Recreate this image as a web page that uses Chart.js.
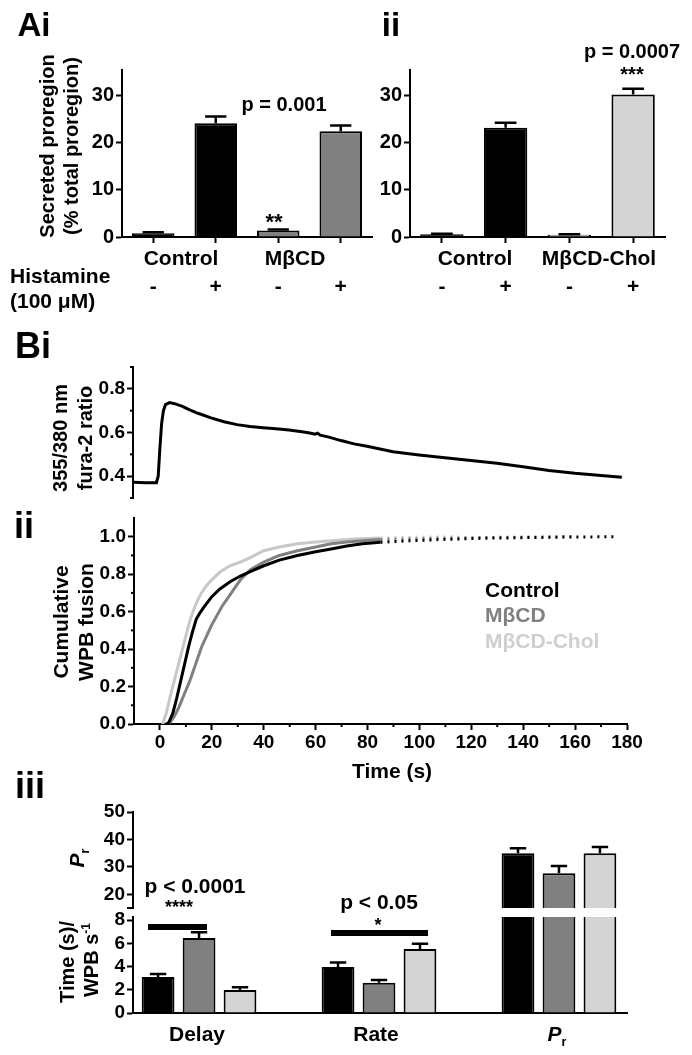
<!DOCTYPE html>
<html>
<head>
<meta charset="utf-8">
<script src="https://cdn.jsdelivr.net/npm/chart.js@4.4.0/dist/chart.umd.min.js"></script>
<style>
  body { margin: 0; background: #fff; }
  #page { position: relative; width: 692px; height: 1055px; overflow: hidden;
          font-family: "Liberation Sans", Arial, Helvetica, sans-serif; font-weight: bold; }
  canvas { position: absolute; left: 0; top: 0; }
  .t { position: absolute; white-space: nowrap; line-height: 1; color: #000; }
  .bar { position: absolute; background: #000; }
  sub, sup { font-size: 0.6em; line-height: 0; }
</style>
</head>
<body>
<div id="page">
  <canvas id="cAi" width="692" height="1055"></canvas>
  <canvas id="cAii" width="692" height="1055"></canvas>
  <canvas id="cBi" width="692" height="1055"></canvas>
  <canvas id="cBii" width="692" height="1055"></canvas>
  <canvas id="cPr" width="692" height="1055"></canvas>
  <canvas id="cKin" width="692" height="1055"></canvas>
</div>
<script>
const W = 692, H = 1055;

// A: secreted proregion (% total proregion), histamine - / +
const aSigns = ["-", "+", "-", "+"];
const aiValues = [0.8, 24.2, 1.4, 22.5];
const aiErrors = [0.2, 1.4, 0.2, 1.2];
const aiiValues = [0.6, 23.2, 0.5, 30.3];
const aiiErrors = [0.1, 1.1, 0.1, 1.2];
const aTicks = [0, 10, 20, 30];

// Bi: fura-2 ratio trace
const fTime = [-10, -5, -1, -0.3, 0.3, 1, 1.7, 2.5, 4, 6, 9, 12, 15, 20, 25, 30, 35, 40, 45, 50,
  55, 58, 60, 61, 62, 65, 70, 75, 80, 90, 100, 110, 120, 130, 140, 150, 160, 170, 178];
const fRatio = [0.372, 0.37, 0.37, 0.40, 0.52, 0.64, 0.70, 0.728, 0.737, 0.732, 0.72, 0.703, 0.688, 0.667, 0.649, 0.636, 0.628, 0.622, 0.617, 0.611,
  0.603, 0.598, 0.592, 0.597, 0.588, 0.58, 0.563, 0.548, 0.537, 0.512, 0.497, 0.484, 0.472, 0.459, 0.443, 0.426, 0.413, 0.403, 0.395];
const fTicks = [0.4, 0.6, 0.8];
const fMinor = [0.3, 0.5, 0.7, 0.9];

// Bii: cumulative WPB fusion
const ctrlTime = [2.5, 3.5, 5, 6.5, 8, 9.5, 11, 12.5, 14, 15.5, 17, 20, 23, 27, 31, 35, 40, 46, 53, 60,
  66, 72, 78, 85, 95, 110, 125, 140, 155, 176];
const ctrlFrac = [0, 0.01, 0.06, 0.14, 0.23, 0.32, 0.41, 0.49, 0.56, 0.595, 0.625, 0.68, 0.72, 0.76, 0.79, 0.815, 0.845, 0.875, 0.9, 0.92,
  0.935, 0.95, 0.962, 0.97, 0.978, 0.986, 0.992, 0.995, 0.998, 1.0];
const mbcdTime = [2.5, 4, 5.5, 7, 8.5, 10, 11.5, 13, 14.5, 16, 18, 20, 22, 24, 26, 28, 31, 35, 40, 46,
  53, 60, 66, 72, 78, 85, 100, 120, 140, 160];
const mbcdFrac = [0, 0.01, 0.04, 0.08, 0.13, 0.18, 0.23, 0.29, 0.35, 0.41, 0.47, 0.53, 0.58, 0.63, 0.67, 0.71, 0.77, 0.825, 0.865, 0.9,
  0.925, 0.945, 0.962, 0.972, 0.978, 0.985, 0.99, 0.995, 0.998, 1.0];
const cholTime = [1, 2.5, 4, 5.5, 7, 8.5, 10, 11.5, 13, 14.5, 16, 18, 20, 23, 27, 31, 35, 40, 46, 53,
  60, 66, 75, 85, 100, 115];
const cholFrac = [0, 0.06, 0.15, 0.23, 0.31, 0.39, 0.47, 0.55, 0.61, 0.66, 0.7, 0.74, 0.77, 0.81, 0.845, 0.865, 0.89, 0.925, 0.945, 0.962,
  0.972, 0.978, 0.988, 0.993, 0.997, 1.0];
const cumXTicks = [0, 20, 40, 60, 80, 100, 120, 140, 160, 180];
const cumXMinor = [10, 30, 50, 70, 90, 110, 130, 150, 170];
const cumYTicks = [0, 0.2, 0.4, 0.6, 0.8, 1.0];
const cumYMinor = [0.1, 0.3, 0.5, 0.7, 0.9];

// Biii: delay (s), rate (WPB/s), Pr
const kinGroups = ["Delay", "Rate", "Pr"];
const ctrlKin = [3.1, 3.95, 35.0];
const ctrlKinErr = [0.25, 0.4, 1.8];
const mbcdKin = [6.45, 2.6, 27.7];
const mbcdKinErr = [0.5, 0.25, 2.6];
const cholKin = [1.97, 5.5, 35.0];
const cholKinErr = [0.25, 0.45, 2.2];
const prTicks = [20, 30, 40, 50];
const prMinor = [15];
const kinTicks = [0, 2, 4, 6, 8];

const BLACK = "#000000", GREY = "#808080", LIGHT = "#d4d4d4";

Chart.defaults.font.family = '"Liberation Sans", Arial, Helvetica, sans-serif';
Chart.defaults.font.weight = "bold";
Chart.defaults.color = BLACK;
Chart.defaults.animation = false;
Chart.defaults.responsive = false;
Chart.defaults.plugins.legend.display = false;
Chart.defaults.plugins.tooltip.enabled = false;

// one-sided (upward) SEM bars
Chart.register({
  id: "errorBars",
  afterDatasetsDraw(chart) {
    const ctx = chart.ctx, a = chart.chartArea;
    ctx.save();
    ctx.beginPath();
    ctx.rect(a.left, a.top, a.right - a.left, a.bottom - a.top);
    ctx.clip();
    ctx.strokeStyle = BLACK;
    ctx.lineWidth = 2.5;
    chart.data.datasets.forEach((ds, di) => {
      if (!ds.errors) return;
      const meta = chart.getDatasetMeta(di);
      const yScale = chart.scales[meta.yAxisID];
      meta.data.forEach((bar, i) => {
        const v = meta.controller.getParsed(i)[yScale.axis];
        const top = yScale.getPixelForValue(v + ds.errors[i]);
        const half = bar.width / 4;
        ctx.beginPath();
        ctx.moveTo(bar.x, bar.y);
        ctx.lineTo(bar.x, top);
        ctx.moveTo(bar.x - half, top);
        ctx.lineTo(bar.x + half, top);
        ctx.stroke();
      });
    });
    ctx.restore();
  }
});

// short unlabelled ticks
Chart.register({
  id: "minorTicks",
  afterDraw(chart, args, opts) {
    const ctx = chart.ctx;
    ctx.save();
    ctx.strokeStyle = BLACK;
    ctx.lineWidth = 2;
    (opts.axes || []).forEach(ax => {
      const s = chart.scales[ax.id];
      ax.values.forEach(v => {
        const p = s.getPixelForValue(v);
        ctx.beginPath();
        if (s.isHorizontal()) {
          ctx.moveTo(p, s.top);
          ctx.lineTo(p, s.top + ax.len);
        } else {
          ctx.moveTo(s.right, p);
          ctx.lineTo(s.right - ax.len, p);
        }
        ctx.stroke();
      });
    });
    ctx.restore();
  }
});

// area = [left, top, right, bottom] of the plot in page pixels
function pad(area, yW, xH) {
  return { left: area[0] - yW, top: area[1], right: W - area[2], bottom: H - area[3] - xH };
}

function fixedTicks(values) {
  return s => { s.ticks = values.map(v => ({ value: v })); };
}

function valueAxis(min, max, ticks, width, size, fmt) {
  return {
    min: min,
    max: max,
    afterBuildTicks: fixedTicks(ticks),
    afterFit: s => { s.width = width; },
    border: { display: true, color: BLACK, width: 2 },
    grid: { drawOnChartArea: false, tickLength: 6, tickWidth: 2, tickColor: BLACK },
    ticks: { font: { size: size }, padding: 2, autoSkip: false, callback: fmt }
  };
}

function proregionChart(id, area, values, errors, colors) {
  new Chart(document.getElementById(id), {
    type: "bar",
    data: {
      labels: aSigns,
      datasets: [{
        data: values, errors: errors,
        backgroundColor: colors, borderColor: BLACK, borderWidth: 2, borderSkipped: "start",
        barPercentage: 0.68, categoryPercentage: 1
      }]
    },
    options: {
      layout: { padding: pad(area, 60, 70) },
      scales: {
        x: {
          offset: true,
          afterFit: s => { s.height = 70; },
          border: { display: true, color: BLACK, width: 2 },
          grid: { offset: false, drawOnChartArea: false, tickLength: 6, tickWidth: 2, tickColor: BLACK },
          ticks: { font: { size: 21 }, padding: 32 }
        },
        y: valueAxis(0, 35.5, aTicks, 60, 20, v => v)
      }
    }
  });
}

proregionChart("cAi", [122, 70, 372, 237], aiValues, aiErrors, [BLACK, BLACK, GREY, GREY]);
proregionChart("cAii", [410, 70, 665, 237], aiiValues, aiiErrors, [BLACK, BLACK, LIGHT, LIGHT]);

function xy(xs, ys) {
  return xs.map((x, i) => ({ x: x, y: ys[i] }));
}

// Bi
new Chart(document.getElementById("cBi"), {
  type: "scatter",
  data: {
    datasets: [{
      data: xy(fTime, fRatio), showLine: true, pointRadius: 0,
      borderColor: BLACK, borderWidth: 3, tension: 0
    }]
  },
  options: {
    layout: { padding: pad([133, 367, 627, 498], 50, 0) },
    plugins: { minorTicks: { axes: [{ id: "y", values: fMinor, len: 3 }] } },
    scales: {
      x: { type: "linear", display: false, min: -10, max: 180 },
      y: valueAxis(0.3, 0.9, fTicks, 50, 19, v => v.toFixed(1))
    }
  }
});

// Bii
function cumSet(xs, ys, color) {
  return {
    data: xy(xs, ys), showLine: true, pointRadius: 0,
    borderColor: color, borderWidth: 3, tension: 0,
    segment: { borderDash: c => (c.p0.parsed.x >= 85 ? [2, 5] : undefined) }
  };
}

new Chart(document.getElementById("cBii"), {
  type: "scatter",
  data: {
    datasets: [
      cumSet(ctrlTime, ctrlFrac, BLACK),
      cumSet(mbcdTime, mbcdFrac, GREY),
      cumSet(cholTime, cholFrac, "#c8c8c8")
    ]
  },
  options: {
    layout: { padding: pad([134, 518, 627, 724], 50, 40) },
    plugins: {
      minorTicks: {
        axes: [
          { id: "x", values: cumXMinor, len: 3 },
          { id: "y", values: cumYMinor, len: 3 }
        ]
      }
    },
    scales: {
      x: {
        type: "linear", min: -10, max: 180,
        afterBuildTicks: fixedTicks(cumXTicks),
        afterFit: s => { s.height = 40; },
        border: { display: true, color: BLACK, width: 2 },
        grid: { drawOnChartArea: false, tickLength: 6, tickWidth: 2, tickColor: BLACK },
        ticks: { font: { size: 19 }, padding: 1, maxRotation: 0, autoSkip: false }
      },
      y: valueAxis(0, 1.1, cumYTicks, 50, 19, v => v.toFixed(1))
    }
  }
});

// Biii, split value axis: Pr above the break, delay/rate below
function kinDatasets() {
  const series = [[ctrlKin, ctrlKinErr, BLACK], [mbcdKin, mbcdKinErr, GREY], [cholKin, cholKinErr, LIGHT]];
  return series.map(([vals, errs, col]) => ({
    data: vals.map((v, i) => ({ x: i, y: v })),
    errors: errs,
    backgroundColor: col, borderColor: BLACK, borderWidth: 2, borderSkipped: "start",
    categoryPercentage: 0.683, barPercentage: 0.8
  }));
}

function kinX(show) {
  return {
    type: "linear", min: -0.367, max: 2.378, offset: false,
    afterBuildTicks: fixedTicks(kinGroups.map((g, i) => i)),
    afterFit: s => { s.height = 0; },
    border: { display: show, color: BLACK, width: 2 },
    grid: { display: false },
    ticks: { display: false }
  };
}

new Chart(document.getElementById("cPr"), {
  type: "bar",
  data: { datasets: kinDatasets() },
  options: {
    layout: { padding: pad([133, 812, 627, 908], 50, 0) },
    plugins: { minorTicks: { axes: [{ id: "y", values: prMinor, len: 6 }] } },
    scales: {
      x: kinX(false),
      y: valueAxis(15, 50, prTicks, 50, 19, v => v)
    }
  }
});

new Chart(document.getElementById("cKin"), {
  type: "bar",
  data: { datasets: kinDatasets() },
  options: {
    layout: { padding: pad([133, 917, 627, 1013], 50, 0) },
    scales: {
      x: kinX(true),
      y: valueAxis(0, 8.26, kinTicks, 50, 19, v => v)
    }
  }
});

// text
const page = document.getElementById("page");
function text(html, x, y, size, o) {
  o = o || {};
  const d = document.createElement("div");
  d.className = "t";
  d.innerHTML = html;
  d.style.left = x + "px";
  d.style.top = y + "px";
  d.style.fontSize = size + "px";
  if (o.color) d.style.color = o.color;
  if (o.italic) d.style.fontStyle = "italic";
  d.style.transform = (o.left ? "translate(0,-50%)" : "translate(-50%,-50%)") + (o.rot ? " rotate(-90deg)" : "");
  page.appendChild(d);
}
function rule(x, y, w, h) {
  const d = document.createElement("div");
  d.className = "bar";
  Object.assign(d.style, { left: x + "px", top: y + "px", width: w + "px", height: h + "px" });
  page.appendChild(d);
}

text("Ai", 34, 24, 33);
text("ii", 391, 24, 33);
text("Bi", 33, 346, 36);
text("ii", 24, 526, 36);
text("iii", 30, 786, 36);

text("Secreted proregion", 47, 146, 20, { rot: true });
text("(% total proregion)", 71, 146, 20, { rot: true });
text("Control", 181, 257, 21);
text("MβCD", 295, 257, 21);
text("Control", 475, 257, 21);
text("MβCD-Chol", 599, 257, 21);
text("Histamine", 10, 275, 21, { left: true });
text("(100 μM)", 10, 300, 21, { left: true });
text("p = 0.001", 284, 104, 20);
text("**", 274, 222, 22);
text("p = 0.0007", 632, 51, 20);
text("***", 632, 74, 20);

text("355/380 nm", 60, 438, 20, { rot: true });
text("fura-2 ratio", 85, 438, 20, { rot: true });

text("Cumulative", 60, 622, 21, { rot: true });
text("WPB fusion", 85, 622, 21, { rot: true });
text("Control", 485, 589, 21, { left: true });
text("MβCD", 485, 614, 21, { left: true, color: GREY });
text("MβCD-Chol", 485, 640, 21, { left: true, color: "#cfcfcf" });
text("Time (s)", 392, 770, 21);

text("<i>P</i><sub>r</sub>", 76, 858, 21, { rot: true });
text("Time (s)/", 67, 962, 20, { rot: true });
text("WPB s<sup>-1</sup>", 91, 960, 20, { rot: true });
text("p &lt; 0.0001", 195, 885, 21);
text("****", 179, 907, 18);
rule(148, 924, 59, 6);
text("p &lt; 0.05", 379, 901, 21);
text("*", 378, 925, 18);
rule(331, 930, 97, 6);
text("Delay", 197, 1033, 21);
text("Rate", 376, 1033, 21);
text("<i>P</i><sub>r</sub>", 557, 1033, 21);
</script>
</body>
</html>
